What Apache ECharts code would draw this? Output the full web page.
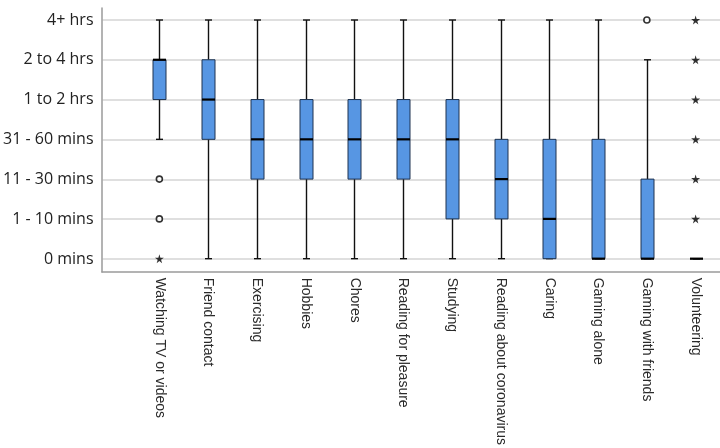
<!DOCTYPE html>
<html>
<head>
<meta charset="utf-8">
<script src="https://cdn.jsdelivr.net/npm/echarts@6/dist/echarts.min.js"></script>
<style>html,body{margin:0;padding:0;background:#fff;}#c{width:720px;height:448px;}</style>
</head>
<body>
<div id="c"></div>
<script>
const categories = ['Watching TV or videos','Friend contact','Exercising','Hobbies','Chores','Reading for pleasure','Studying','Reading about coronavirus','Caring','Gaming alone','Gaming with friends','Volunteering'];
const yLabels = ['0 mins','1 - 10 mins','11 - 30 mins','31 - 60 mins','1 to 2 hrs','2 to 4 hrs','4+ hrs'];
const lowWhisker  = [3,0,0,0,0,0,0,0,0,0,0,0];
const q1          = [4,3,2,2,2,2,1,1,0,0,0,0];
const median      = [5,4,3,3,3,3,3,2,1,0,0,0];
const q3          = [5,5,4,4,4,4,4,3,3,3,2,0];
const highWhisker = [6,6,6,6,6,6,6,6,6,6,5,0];
const outlierCircles = [[0,2],[0,1],[10,6]];
const extremeStars = [[0,0],[11,1],[11,2],[11,3],[11,4],[11,5],[11,6]];

const boxRows = categories.map((c,i)=>[i, lowWhisker[i], q1[i], median[i], q3[i], highWhisker[i]]);
const starPath = 'path://M50,0 L61,35 L98,35 L68,57 L79,91 L50,70 L21,91 L32,57 L2,35 L39,35 Z';

function renderBox(params, api) {
  const x = api.value(0);
  const lo = api.coord([x, api.value(1)]);
  const b1 = api.coord([x, api.value(2)]);
  const md = api.coord([x, api.value(3)]);
  const b3 = api.coord([x, api.value(4)]);
  const hi = api.coord([x, api.value(5)]);
  const cx = Math.round(lo[0]) + 0.5;
  const bw = 13, cw = 7;
  const wStyle = {stroke:'#111', lineWidth:1.4};
  return {
    type:'group',
    children:[
      {type:'line', shape:{x1:cx, y1:lo[1], x2:cx, y2:b1[1]}, style:wStyle},
      {type:'line', shape:{x1:cx, y1:b3[1], x2:cx, y2:hi[1]}, style:wStyle},
      {type:'line', shape:{x1:cx-cw/2, y1:lo[1], x2:cx+cw/2, y2:lo[1]}, style:wStyle},
      {type:'line', shape:{x1:cx-cw/2, y1:hi[1], x2:cx+cw/2, y2:hi[1]}, style:wStyle},
      {type:'rect', shape:{x:cx-bw/2, y:b3[1], width:bw, height:b1[1]-b3[1]}, style:{fill:'#5796e3', stroke:'#1e3350', lineWidth:1}},
      {type:'line', shape:{x1:cx-bw/2, y1:md[1], x2:cx+bw/2, y2:md[1]}, style:{stroke:'#000', lineWidth:2.2}}
    ]
  };
}

const chart = echarts.init(document.getElementById('c'), null, {renderer:'canvas'});
chart.setOption({
  animation:false,
  backgroundColor:'#fff',
  grid:[
    {left:102, right:0, top:8, bottom:176},
    {left:102, right:0, top:20, bottom:189},
    {left:135, width:595, top:20, bottom:189}
  ],
  xAxis:[
    {gridIndex:0, type:'value', min:0, max:1, axisLine:{show:true, lineStyle:{color:'#9a9a9a', width:1.5}}, axisTick:{show:false}, axisLabel:{show:false}, splitLine:{show:false}},
    {gridIndex:1, type:'value', min:0, max:1, show:false},
    {gridIndex:2, type:'category', data:categories, axisLine:{show:false}, axisTick:{show:false},
      axisLabel:{rotate:-90, margin:19, interval:0, fontFamily:'Liberation Sans', fontSize:14, color:'#2a2a2a'}}
  ],
  yAxis:[
    {gridIndex:0, type:'value', min:0, max:1, axisLine:{show:true, lineStyle:{color:'#9a9a9a', width:1.5}}, axisTick:{show:false}, axisLabel:{show:false}, splitLine:{show:false}},
    {gridIndex:1, type:'value', min:0, max:6, interval:1, axisLine:{show:false}, axisTick:{show:false},
      axisLabel:{formatter:(v)=>yLabels[v]||'', margin:9, fontFamily:'Open Sans', fontSize:16, color:'#222'},
      splitLine:{show:true, lineStyle:{color:'#d4d4d4', width:1.5}}},
    {gridIndex:2, type:'value', min:0, max:6, show:false}
  ],
  series:[
    {type:'custom', xAxisIndex:2, yAxisIndex:2, silent:true, data:boxRows, renderItem:renderBox,
      encode:{x:0, y:[1,2,3,4,5]}},
    {type:'scatter', xAxisIndex:2, yAxisIndex:2, silent:true, data:outlierCircles, symbol:'circle', symbolSize:6,
      itemStyle:{color:'#fff', borderColor:'#000', borderWidth:1.6}},
    {type:'scatter', xAxisIndex:2, yAxisIndex:2, silent:true, data:extremeStars, symbol:starPath, symbolSize:9,
      itemStyle:{color:'#000'}}
  ]
});
</script>
</body>
</html>
